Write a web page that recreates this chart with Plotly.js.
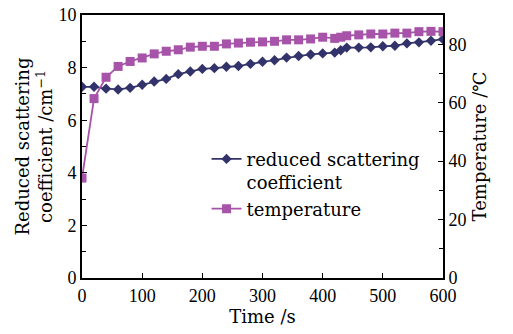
<!DOCTYPE html>
<html>
<head>
<meta charset="utf-8">
<script src="https://cdn.plot.ly/plotly-3.0.1.min.js"></script>
<style>html,body{margin:0;padding:0;background:#fff;}#chart{width:513px;height:334px;}</style>
</head>
<body>
<div id="chart"></div>
<script>
const timeS = [0,20,40,60,80,100,120,140,160,180,200,220,240,260,280,300,320,340,360,380,400,420,430,440,460,480,500,520,540,560,580,600];
const scattering = [7.27,7.27,7.20,7.17,7.23,7.35,7.47,7.57,7.75,7.85,7.95,7.98,8.03,8.06,8.14,8.22,8.28,8.38,8.44,8.50,8.54,8.57,8.66,8.76,8.76,8.77,8.81,8.83,8.92,8.96,9.02,9.08];
const temperature = [34.2,61.4,68.7,72.4,74.1,75.3,76.7,77.6,78.1,79.0,79.3,79.3,80.1,80.4,80.7,80.8,81.0,81.5,81.5,81.8,82.4,82.0,82.4,82.9,83.2,83.5,83.5,83.8,83.8,84.3,84.4,84.3];
const seriesNames = ["reduced scattering<br>coefficient", "temperature"];

const FONT = "DejaVu Serif, Liberation Serif, serif";
const TICKFONT = "'Liberation Serif', 'DejaVu Serif', serif";
const navy = "#33336b";
const purple = "#a653a9";

const traces = [
  {x: timeS, y: scattering, name: seriesNames[0], type: "scatter", mode: "lines+markers",
   line: {color: navy, width: 1.8}, marker: {symbol: "diamond", size: 8, color: navy}, yaxis: "y"},
  {x: timeS, y: temperature, name: seriesNames[1], type: "scatter", mode: "lines+markers",
   line: {color: purple, width: 1.8}, marker: {symbol: "square", size: 9, color: purple}, yaxis: "y2"}
];

const axisCommon = {showline: true, linecolor: "#000", linewidth: 2, ticks: "inside", tickcolor: "#000",
  ticklen: 5, tickwidth: 1, showgrid: false, zeroline: false, tickfont: {family: TICKFONT, size: 18, color: "#000"}};

const layout = {
  width: 513, height: 334,
  margin: {l: 82, r: 70, t: 15, b: 56},
  paper_bgcolor: "#fff", plot_bgcolor: "#fff",
  font: {family: FONT, size: 18, color: "#000"},
  showlegend: true,
  legend: {x: 0.345, y: 0.522, xanchor: "left", yanchor: "top", bgcolor: "rgba(0,0,0,0)",
    font: {family: FONT, size: 18, color: "#000"}, valign: "top", tracegroupgap: 0},
  xaxis: Object.assign({}, axisCommon, {range: [0, 600], dtick: 100, mirror: true,
    title: {text: "Time /s", font: {family: FONT, size: 18}, standoff: 6}}),
  yaxis: Object.assign({}, axisCommon, {range: [0, 10], dtick: 2,
    minor: {dtick: 1, ticks: "inside", ticklen: 4, tickcolor: "#000"},
    title: {text: "Reduced scattering<br>coefficient /cm<sup>−1</sup>", font: {family: FONT, size: 18}, standoff: 1}}),
  yaxis2: Object.assign({}, axisCommon, {range: [0, 90], dtick: 20, overlaying: "y", side: "right",
    minor: {dtick: 10, ticks: "inside", ticklen: 4, tickcolor: "#000"},
    title: {text: "Temperature /℃", font: {family: FONT, size: 18}, standoff: 8}})
};

Plotly.newPlot("chart", traces, layout, {displayModeBar: false, staticPlot: true});
</script>
</body>
</html>
